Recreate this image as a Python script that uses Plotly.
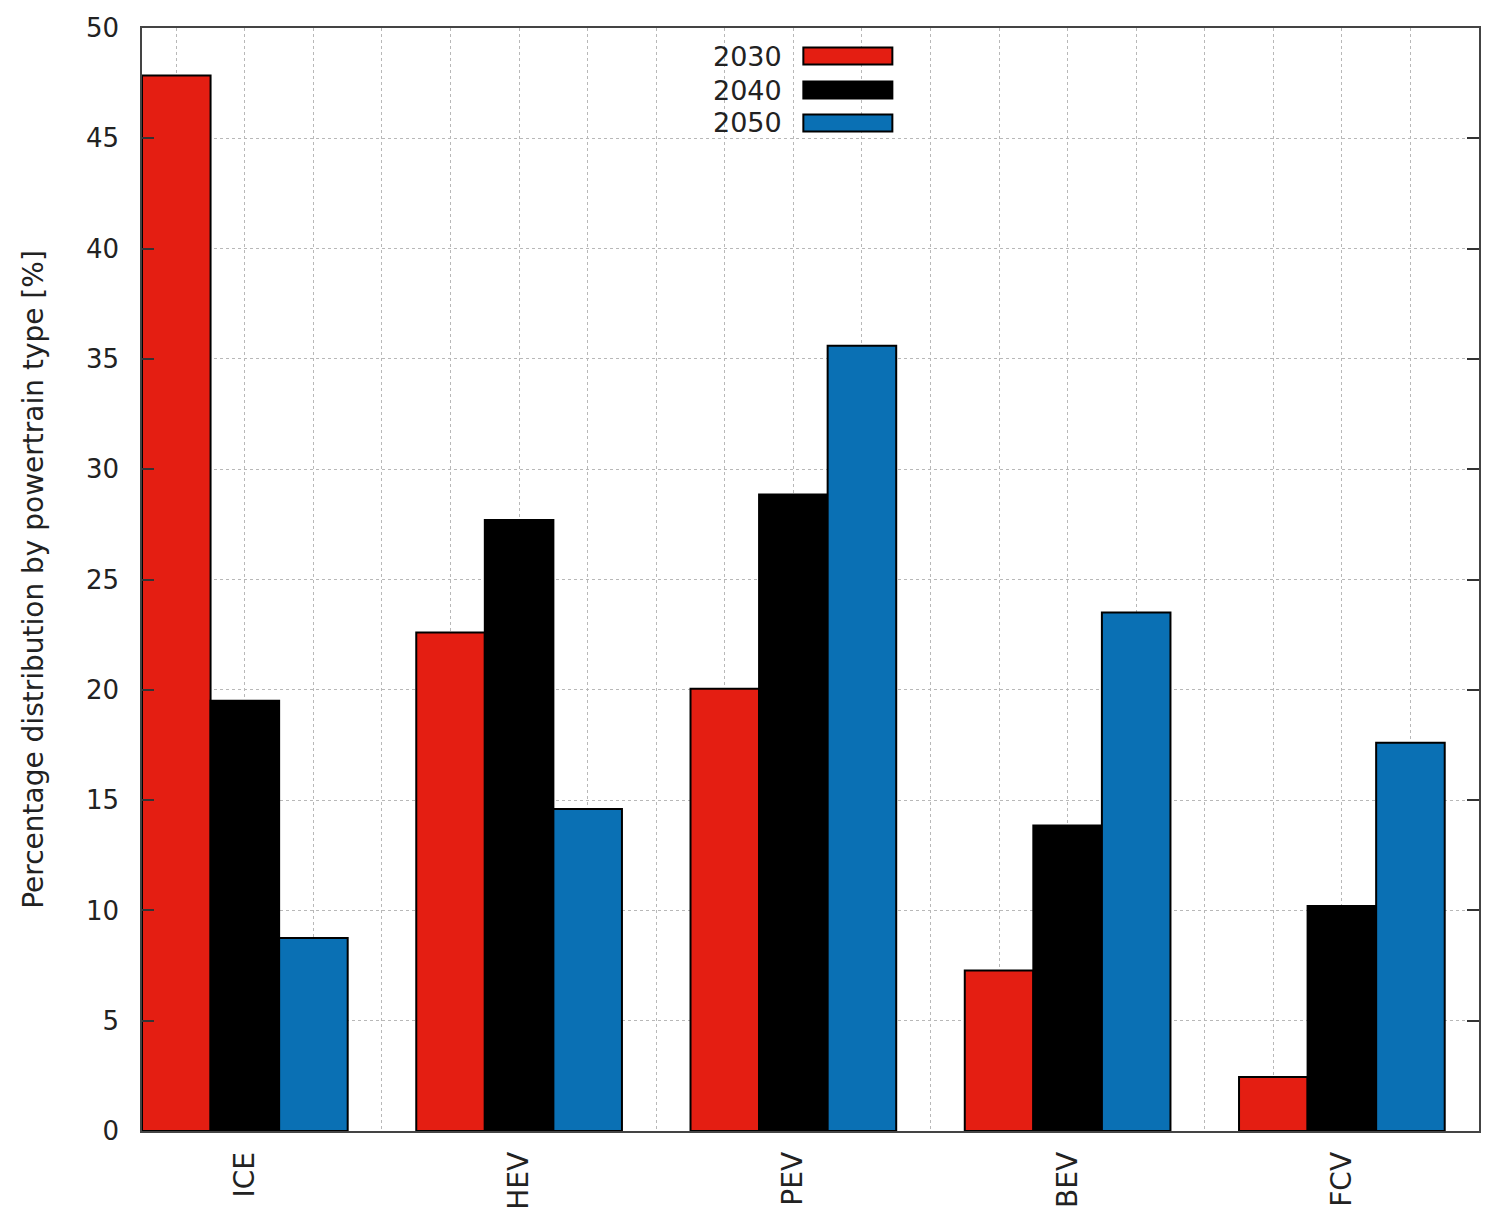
import plotly.graph_objects as go

categories = ["ICE", "HEV", "PEV", "BEV", "FCV"]
years = ["2030", "2040", "2050"]
values_2030 = [47.85, 22.6, 20.05, 7.27, 2.45]
values_2040 = [19.5, 27.7, 28.85, 13.85, 10.2]
values_2050 = [8.75, 14.6, 35.6, 23.5, 17.6]
series = [values_2030, values_2040, values_2050]
colors = ["#e41e12", "#000000", "#0a70b4"]
y_ticks = [0, 5, 10, 15, 20, 25, 30, 35, 40, 45, 50]

FONT = "DejaVu Sans"
x_pos = list(range(len(categories)))

fig = go.Figure()
for name, vals, col in zip(years, series, colors):
    fig.add_trace(go.Bar(
        x=x_pos, y=vals, name=name,
        marker=dict(color=col, line=dict(color="#000000", width=2)),
        showlegend=False,
    ))

W, H = 1497, 1212
ML, MT, MR, MB = 134, 20, 26, 89
grid_col = "#b8b8b8"
fig.update_layout(
    width=W, height=H,
    margin=dict(l=ML, r=MR, t=MT, b=MB),
    paper_bgcolor="white", plot_bgcolor="white",
    barmode="group", bargap=0.25, bargroupgap=0,
    font=dict(family=FONT, size=26, color="#222222"),
)
fig.update_xaxes(
    range=[-0.375, 4.5], automargin=False,
    tickmode="array", tickvals=x_pos, ticktext=categories,
    tickangle=-90, tickfont=dict(size=28, family=FONT, color="#222222"),
    ticks="", showline=True, linecolor="#444444", linewidth=1.5, mirror=True,
    showgrid=True, gridcolor=grid_col, griddash="dot", gridwidth=1,
    minor=dict(tickmode="linear", tick0=0, dtick=0.25, showgrid=True,
               gridcolor=grid_col, griddash="dot", gridwidth=1, ticks=""),
    zeroline=False, ticklabelstandoff=8,
)
fig.update_yaxes(
    range=[0, 50], automargin=False, tickmode="array", tickvals=y_ticks,
    ticktext=[str(t) for t in y_ticks],
    tickfont=dict(size=26, family=FONT, color="#222222"),
    ticks="inside", ticklen=12, tickwidth=1.5, tickcolor="#333333",
    showline=True, linecolor="#444444", linewidth=1.5, mirror="allticks",
    showgrid=True, gridcolor=grid_col, griddash="dot", gridwidth=1,
    zeroline=False, ticklabelstandoff=16,
    title=dict(text="Percentage distribution by powertrain type [%]",
               font=dict(size=28, family=FONT, color="#222222"), standoff=34),
)

# legend (gnuplot-style key: label on the left, sample box on the right)
# pixel positions below are in screen coordinates of the reference
plot_l, plot_r, plot_t, plot_b = 141.7, 1478.6, 28, 1131
def px_x(p):
    return (p - plot_l) / (plot_r - plot_l)
def px_y(p):
    return (plot_b - p) / (plot_b - plot_t)

row_y = [56, 90, 123]
for name, col, ry in zip(years, colors, row_y):
    fig.add_shape(type="rect", xref="paper", yref="paper",
                  x0=px_x(803), x1=px_x(892), y0=px_y(ry + 8.5), y1=px_y(ry - 8.5),
                  fillcolor=col, line=dict(color="#000000", width=2))
    fig.add_annotation(xref="paper", yref="paper", x=px_x(784), y=px_y(ry),
                       text=name, showarrow=False, xanchor="right", yanchor="middle",
                       font=dict(size=27, family=FONT, color="#222222"))

fig.write_html("out.html")
